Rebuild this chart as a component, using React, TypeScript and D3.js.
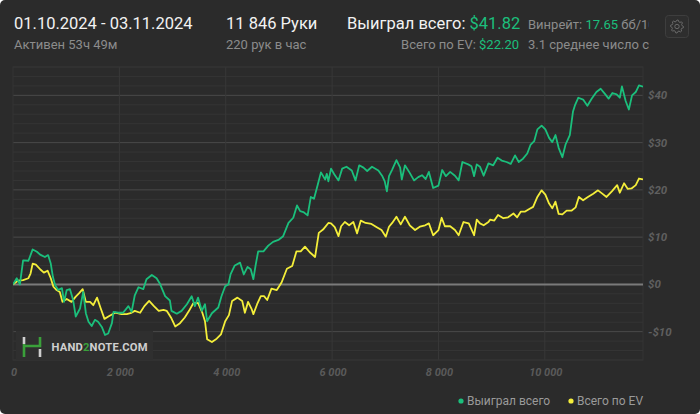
import React, { useEffect } from "react";
import * as d3 from "d3";

const TOTAL_HANDS = 11846;

const wonHands = [0,70,130,190,290,370,450,510,600,660,710,750,790,850,920,960,1010,1070,1130,1180,1260,1320,1370,1420,1480,1540,1600,1670,1730,1790,1860,1890,1980,2070,2170,2230,2290,2360,2450,2510,2610,2700,2760,2860,2950,2980,3080,3170,3270,3360,3420,3480,3550,3610,3650,3740,3860,3920,3990,4050,4090,4170,4270,4340,4410,4470,4520,4560,4610,4710,4800,4890,4990,5080,5180,5270,5340,5400,5460,5540,5600,5660,5730,5790,5870,5900,5930,5980,6040,6120,6190,6270,6370,6440,6510,6590,6660,6750,6870,6940,6990,7030,7070,7130,7210,7280,7310,7370,7460,7540,7620,7690,7760,7820,7900,8000,8070,8140,8220,8310,8380,8450,8560,8620,8670,8720,8780,8850,8940,9030,9110,9190,9280,9360,9440,9510,9590,9670,9730,9800,9860,9940,10010,10080,10140,10200,10260,10330,10390,10470,10530,10570,10630,10720,10800,10880,10970,11050,11130,11200,11270,11350,11410,11450,11520,11580,11640,11710,11770,11846];
const wonValues = [0,1.3,0,5.1,5.0,7.4,6.9,6.3,5.8,6.2,4.4,1.6,-0.1,-1.2,-0.8,-3.7,-1.2,-1.0,-3.3,-6.8,-5.1,-1.6,-6.1,-7.9,-8.8,-7.5,-7.9,-9.0,-10.7,-10.4,-8.2,-5.8,-6.0,-6.0,-4.6,-5.8,-2.3,-0.6,-1.0,1.1,2.0,1.3,0.2,-2.5,-3.4,-5.6,-6.2,-5.6,-4.2,-2.5,-4.6,-2.8,-5.6,-4.2,-7.8,-6.1,-4.9,-2.5,-0.4,0.0,2.1,4.0,4.6,2.1,3.7,3.2,1.1,3.9,7.0,7.0,8.2,9.0,9.4,10.2,13.0,14.1,16.7,15.5,15.3,14.6,18.5,18.1,21.1,23.7,22.2,23.4,21.8,24.5,23.3,22.0,24.5,24.9,24.1,22.0,25.2,24.7,24.0,24.9,24.1,23.0,21.8,19.7,22.9,24.3,26.3,24.7,22.2,25.2,23.6,22.0,22.7,23.1,22.3,23.8,20.4,20.9,24.2,22.9,23.8,23.0,22.0,25.9,25.4,25.0,22.9,25.4,24.9,23.0,25.6,25.2,26.8,26.2,25.9,25.5,27.3,25.9,26.6,27.7,29.5,30.3,32.8,33.6,32.8,31.0,30.1,31.6,28.9,26.9,29.6,31.6,36.6,38.0,39.5,39.1,37.8,39.3,40.7,41.4,40.3,39.3,40.5,40.2,39.5,41.9,38.8,37.0,40.0,40.7,42.1,41.82];

const evHands = [0,100,190,290,330,370,430,510,580,650,710,760,820,880,930,1010,1100,1180,1240,1310,1370,1450,1510,1580,1650,1720,1810,1920,2040,2140,2210,2290,2390,2470,2560,2650,2740,2830,2890,2920,2970,3050,3140,3230,3310,3390,3480,3560,3610,3650,3740,3830,3910,3990,4060,4120,4220,4310,4360,4420,4490,4520,4590,4660,4720,4780,4860,4960,5050,5150,5250,5330,5410,5490,5580,5680,5750,5830,5930,5980,6050,6120,6170,6240,6320,6400,6470,6540,6630,6740,6840,6930,7010,7070,7130,7210,7290,7370,7460,7560,7650,7750,7820,7900,8000,8060,8120,8220,8310,8380,8470,8570,8670,8720,8780,8850,8940,8970,9050,9120,9220,9310,9410,9480,9550,9630,9700,9780,9860,9940,10010,10080,10140,10200,10260,10330,10410,10500,10580,10640,10720,10810,10910,11000,11080,11160,11260,11360,11410,11490,11560,11630,11710,11770,11846];
const evValues = [0,0.8,0.9,1.3,2.3,4.4,4.2,3.2,2.5,2.9,1.3,-0.5,-1.2,-1.6,-3.7,-3.1,-3.7,-2.6,-1.9,-1.0,-3.7,-3.7,-4.4,-2.8,-5.1,-7.3,-6.7,-6.0,-6.3,-6.3,-6.1,-5.6,-6.0,-4.6,-3.5,-4.6,-5.6,-5.4,-5.6,-6.1,-7.0,-8.9,-8.2,-7.0,-5.6,-4.0,-3.9,-6.0,-7.8,-11.6,-12.2,-11.5,-10.6,-7.8,-6.5,-3.5,-2.8,-3.5,-6.0,-3.7,-5.3,-6.3,-4.2,-2.5,-2.5,-3.3,-0.9,-1.2,0.4,3.3,3.9,7.0,7.0,8.0,6.8,5.8,10.9,11.6,13.0,12.9,12.1,10.2,12.3,13.2,12.5,13.2,10.8,13.5,13.0,12.8,12.1,11.5,10.1,12.2,13.0,14.3,12.7,14.3,12.5,11.5,12.2,12.5,12.9,10.4,11.5,14.1,12.3,12.3,11.5,10.4,13.2,12.9,10.4,13.7,12.9,12.5,13.2,13.7,13.5,14.7,14.0,14.2,15.0,14.2,15.4,15.4,15.9,16.4,18.5,19.9,19.0,17.1,16.1,17.5,14.9,14.8,15.6,15.6,16.3,18.5,17.8,18.5,19.2,19.9,19.2,18.5,19.7,21.0,19.4,21.4,20.2,20.3,21.0,22.4,22.2];

const xTicks = [0, 2000, 4000, 6000, 8000, 10000];
const yTicks = [-10, 0, 10, 20, 30, 40];
const legendLabels = ["Выиграл всего", "Всего по EV"];

const BG = "#2b2b2b";
const GREEN = "#1bbf7c";
const YELLOW = "#f4ee3a";
const FONT = "Roboto, 'Noto Sans', sans-serif";

function gearPath(cx: number, cy: number, rOut: number, rIn: number, teeth: number) {
  const pts: [number, number][] = [];
  const n = teeth * 4;
  for (let i = 0; i < n; i++) {
    const a = (i / n) * Math.PI * 2;
    const r = i % 4 < 2 ? rOut : rIn;
    pts.push([cx + r * Math.cos(a), cy + r * Math.sin(a)]);
  }
  return d3.line()(pts.concat([pts[0]])) as string;
}

export default function App() {
  useEffect(() => {
    document.body.style.margin = "0";
    document.body.style.background = "#ffffff";
  }, []);

  const W = 700, H = 414;
  const left = 13, right = 643, top = 67, bottom = 360;
  const x = d3.scaleLinear().domain([0, TOTAL_HANDS]).range([left, right]);
  const y = d3.scaleLinear().domain([-16, 46]).range([bottom, top]);

  const line = d3.line<[number, number]>().x((d) => x(d[0])).y((d) => y(d[1]));
  const wonData: [number, number][] = wonHands.map((h, i) => [h, wonValues[i]]);
  const evData: [number, number][] = evHands.map((h, i) => [h, evValues[i]]);

  const minor = d3.range(-16, 47, 2);
  const fmtX = (v: number) => d3.format(",")(v).replace(/,/g, " ");
  const fmtY = (v: number) => (v < 0 ? "-$" + Math.abs(v) : "$" + v);

  return (
    <svg width={W} height={H} style={{ display: "block", fontFamily: FONT }}>
      <defs>
        <clipPath id="statClip">
          <rect x={525} y={0} width={124} height={60} />
        </clipPath>
        <clipPath id="plotClip">
          <rect x={left} y={top} width={right - left} height={bottom - top} />
        </clipPath>
      </defs>
      <rect x={0} y={0} width={W} height={H} rx={5} fill={BG} />

      {/* Header */}
      <text x={14} y={29} fontSize={16.5} fill="#f2f2f2">01.10.2024 - 03.11.2024</text>
      <text x={14} y={49} fontSize={13} fill="#8c8c8c">Активен 53ч 49м</text>
      <text x={226} y={29} fontSize={16.5} fill="#f2f2f2">11 846 Руки</text>
      <text x={226} y={49} fontSize={13} fill="#8c8c8c">220 рук в час</text>
      <text x={347} y={29} fontSize={16.5} fill="#f2f2f2">
        Выиграл всего: <tspan fill={GREEN}>$41.82</tspan>
      </text>
      <text x={519} y={49} fontSize={13} fill="#8c8c8c" textAnchor="end">
        Всего по EV: <tspan fill={GREEN}>$22.20</tspan>
      </text>
      <g clipPath="url(#statClip)">
        <text x={528} y={29} fontSize={13} fill="#8c8c8c">
          Винрейт: <tspan fill={GREEN}>17.65</tspan> бб/100
        </text>
        <text x={528} y={49} fontSize={13} fill="#8c8c8c">3.1 среднее число столов</text>
      </g>
      <rect x={665.5} y={15.5} width={23} height={22} rx={3} fill="#2e2e2e" stroke="#3e3e3e" />
      <path d={gearPath(677, 26.5, 6.5, 5, 8)} fill="none" stroke="#6a6a6a" strokeWidth={1} />
      <circle cx={677} cy={26.5} r={2.2} fill="none" stroke="#6a6a6a" strokeWidth={1} />

      {/* Grid */}
      {minor.map((v) => (
        <line key={"m" + v} x1={left} x2={right} y1={y(v)} y2={y(v)}
          stroke={v % 10 === 0 ? "#4a4a4a" : "#353535"} strokeWidth={1} />
      ))}
      {xTicks.slice(1).map((v) => (
        <line key={"v" + v} x1={x(v)} x2={x(v)} y1={top} y2={bottom} stroke="#383838" strokeWidth={1} />
      ))}
      <rect x={left} y={top} width={right - left} height={bottom - top} fill="none" stroke="#353535" />
      <line x1={left} x2={right} y1={y(0)} y2={y(0)} stroke="#7a7a7a" strokeWidth={2} />

      {/* Logo */}
      <rect x={16} y={331} width={137} height={29} fill="#2f2f2f" />
      <g strokeWidth={2.6} fill="none">
        <line x1={24} y1={337} x2={24} y2={344} stroke="#cfcfcf" />
        <polyline points="24,344 24,357" stroke="#3aa03a" />
        <polyline points="24,346 40,346 40,337" stroke="#3aa03a" />
        <line x1={40} y1={349} x2={40} y2={357} stroke="#cfcfcf" />
      </g>
      <text x={51.5} y={351} fontSize={11.2} fontWeight={700} fill="#cfcfcf" letterSpacing={0.2}>
        HAND<tspan fill="#3aa03a">2</tspan>NOTE.COM
      </text>

      {/* Lines */}
      <g clipPath="url(#plotClip)">
        <path d={line(evData) as string} fill="none" stroke={YELLOW} strokeWidth={1.8} strokeLinejoin="round" />
        <path d={line(wonData) as string} fill="none" stroke={GREEN} strokeWidth={1.8} strokeLinejoin="round" />
      </g>

      {/* Axes labels */}
      {yTicks.map((v) => (
        <text key={"yl" + v} x={648} y={y(v) + 4} fontSize={11.5} fontStyle="italic" fontWeight={700} fill="#5f5f5f">
          {fmtY(v)}
        </text>
      ))}
      {xTicks.map((v) => (
        <text key={"xl" + v} x={x(v) + 1} y={376} fontSize={11} fontStyle="italic" fontWeight={700} fill="#5a5a5a" textAnchor="middle">
          {fmtX(v)}
        </text>
      ))}

      {/* Legend */}
      <circle cx={461} cy={401} r={2.6} fill={GREEN} />
      <text x={467} y={405} fontSize={12} fill="#9a9a9a">{legendLabels[0]}</text>
      <circle cx={571} cy={401} r={2.6} fill={YELLOW} />
      <text x={577} y={405} fontSize={12} fill="#9a9a9a">{legendLabels[1]}</text>
    </svg>
  );
}
